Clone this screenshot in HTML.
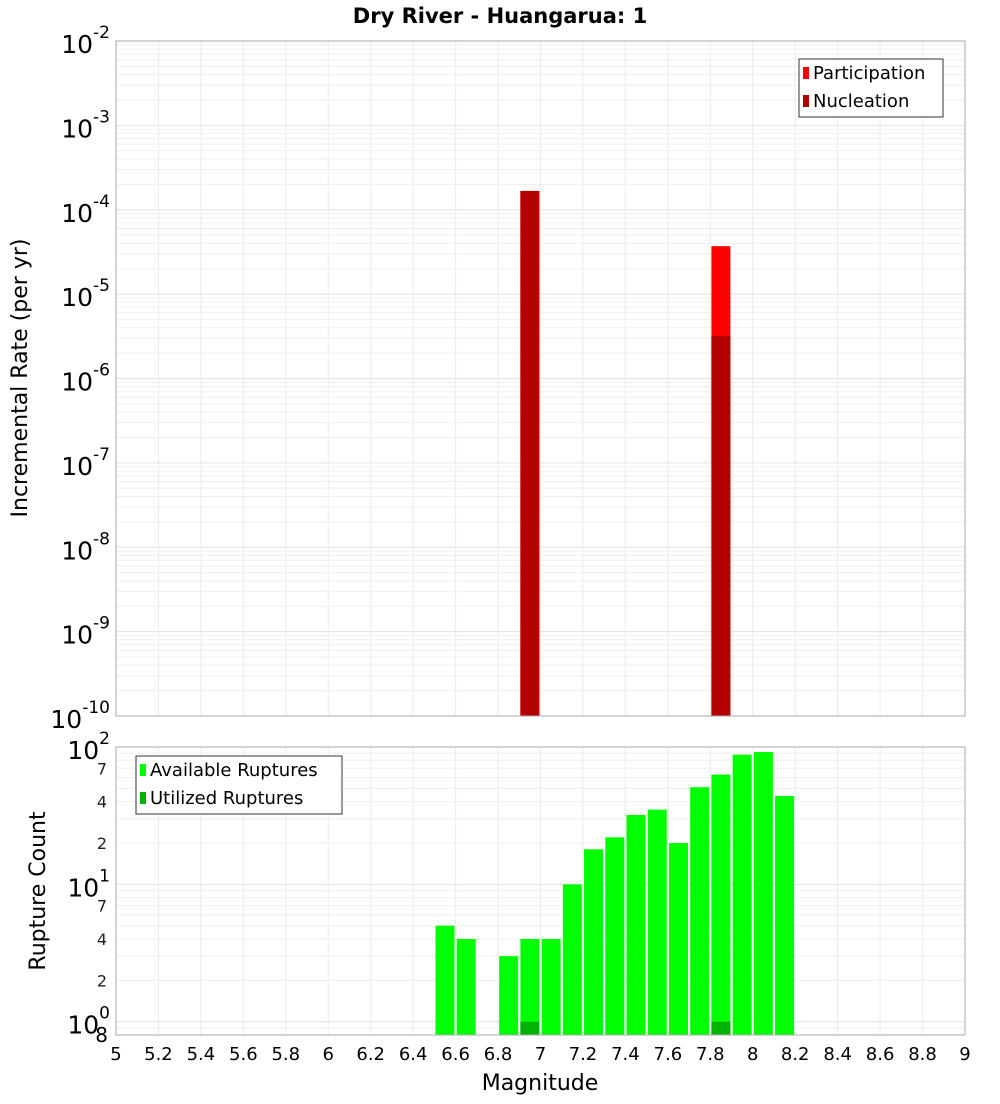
<!DOCTYPE html>
<html><head><meta charset="utf-8"><style>
body{margin:0;background:#fff;font-family:"DejaVu Sans","Liberation Sans",sans-serif}
</style></head><body>
<svg id="c" width="1000" height="1100" xmlns="http://www.w3.org/2000/svg" font-family="DejaVu Sans, Liberation Sans, sans-serif"></svg>
<script>
const topMags=[6.95,7.85];
const participation=[1.67e-4,3.7e-5];
const nucleation=[1.67e-4,3.2e-6];
const botMags=[6.55,6.65,6.85,6.95,7.05,7.15,7.25,7.35,7.45,7.55,7.65,7.75,7.85,7.95,8.05,8.15];
const available=[5,4,3,4,4,10,18,22,32,35,20,51,63,88,92,44];
const utilizedMags=[6.95,7.85];
const utilized=[1,1];
const xTicks=["5","5.2","5.4","5.6","5.8","6","6.2","6.4","6.6","6.8","7","7.2","7.4","7.6","7.8","8","8.2","8.4","8.6","8.8","9"];

const NS="http://www.w3.org/2000/svg",svg=document.getElementById('c');
function el(t,a,p){const e=document.createElementNS(NS,t);for(const k in a)e.setAttribute(k,a[k]);(p||svg).appendChild(e);return e;}
const L=116,R=965;
const x=m=>L+(m-5)/4*(R-L);
const T1=41,B1=716; const yT=v=>T1+(-2-Math.log10(v))/8*(B1-T1);
const T2=747,B2=1035; const lmin=Math.log10(0.8); const yB=v=>T2+(2-Math.log10(v))/(2-lmin)*(B2-T2);

// title
let t=el('text',{x:500,y:23,'text-anchor':'middle','font-size':21,'font-weight':'bold'});t.textContent="Dry River - Huangarua: 1";


function grid(T,B,yf,decs,g){
  for(let i=0;i<=20;i++){el('line',{x1:x(5+i*0.2),x2:x(5+i*0.2),y1:T,y2:B,stroke:'#ebebeb'},g);}
  decs.forEach(d=>{for(let k=1;k<10;k++){const v=k*Math.pow(10,d);const yy=yf(v);if(yy<T-0.5||yy>B+0.5)continue;
    el('line',{x1:L,x2:R,y1:yy,y2:yy,stroke:k==1?'#e2e2e2':'#efefef'},g);}});
}
// top panel
const g1=el('g',{});
el('rect',{x:L,y:T1,width:R-L,height:B1-T1,fill:'#fff'},g1);
grid(T1,B1,yT,[-10,-9,-8,-7,-6,-5,-4,-3,-2],g1);
topMags.forEach((m,i)=>{
  const r=el('rect',{x:x(m)-9.5,y:yT(participation[i]),width:19,height:B1-yT(participation[i]),fill:'#ff0000'},g1);
  
  const n=el('rect',{x:x(m)-9.5,y:yT(nucleation[i]),width:19,height:B1-yT(nucleation[i]),fill:'#b30000'},g1);
  
});
el('rect',{x:L,y:T1,width:R-L,height:B1-T1,fill:'none',stroke:'#aaa'},g1);
for(let d=-2;d>=-10;d--){const yy=yT(Math.pow(10,d));
  const tx=el('text',{x:110,y:yy+12,'text-anchor':'end','font-size':25});
  
  tx.innerHTML='10<tspan dy="-15" font-size="17">'+d+'</tspan>';}
t=el('text',{x:27,y:378,'text-anchor':'middle','font-size':22,transform:'rotate(-90 27 378)'});t.textContent="Incremental Rate (per yr)";

// legend top
const lg=el('g',{});
el('rect',{x:799,y:59,width:144,height:58,fill:'#fff',stroke:'#333'},lg);
el('rect',{x:803,y:67,width:6,height:12,fill:'#ff0000'},lg);
el('rect',{x:803,y:95,width:6,height:12,fill:'#b30000'},lg);
t=el('text',{x:813,y:79,'font-size':18},lg);t.textContent="Participation";
t=el('text',{x:813,y:107,'font-size':18},lg);t.textContent="Nucleation";

// bottom panel
const g2=el('g',{});
el('rect',{x:L,y:T2,width:R-L,height:B2-T2,fill:'#fff'},g2);
grid(T2,B2,yB,[-1,0,1,2],g2);
botMags.forEach((m,i)=>{const r=el('rect',{x:x(m)-9.5,y:yB(available[i]),width:19,height:B2-yB(available[i]),fill:'#00ff00'},g2);
  });
utilizedMags.forEach((m,i)=>{const r=el('rect',{x:x(m)-9.5,y:yB(utilized[i]),width:19,height:B2-yB(utilized[i]),fill:'#00b300'},g2);
  });
el('rect',{x:L,y:T2,width:R-L,height:B2-T2,fill:'none',stroke:'#aaa'},g2);
[2,1,0].forEach(d=>{const yy=yB(Math.pow(10,d));
  const tx=el('text',{x:110,y:yy+12,'text-anchor':'end','font-size':25});
  
  tx.innerHTML='10<tspan dy="-15" font-size="17">'+d+'</tspan>';});
[70,40,20,7,4,2].forEach(v=>{const tx=el('text',{x:107,y:yB(v)+6,'text-anchor':'end','font-size':16,fill:'#222'});tx.textContent=String(v)[0];
  });
t=el('text',{x:108,y:1042,'text-anchor':'end','font-size':20});t.textContent="8";
t=el('text',{x:45,y:891,'text-anchor':'middle','font-size':22,transform:'rotate(-90 45 891)'});t.textContent="Rupture Count";

xTicks.forEach((s,i)=>{const tx=el('text',{x:x(5+i*0.2),y:1060,'text-anchor':'middle','font-size':18});tx.textContent=s;
  });
t=el('text',{x:540,y:1090,'text-anchor':'middle','font-size':22});t.textContent="Magnitude";

const lg2=el('g',{});
el('rect',{x:136,y:756,width:206,height:58,fill:'#fff',stroke:'#333'},lg2);
el('rect',{x:140,y:764,width:6,height:12,fill:'#00ff00'},lg2);
el('rect',{x:140,y:792,width:6,height:12,fill:'#00b300'},lg2);
t=el('text',{x:150,y:776,'font-size':18},lg2);t.textContent="Available Ruptures";
t=el('text',{x:150,y:804,'font-size':18},lg2);t.textContent="Utilized Ruptures";
</script>
</body></html>
